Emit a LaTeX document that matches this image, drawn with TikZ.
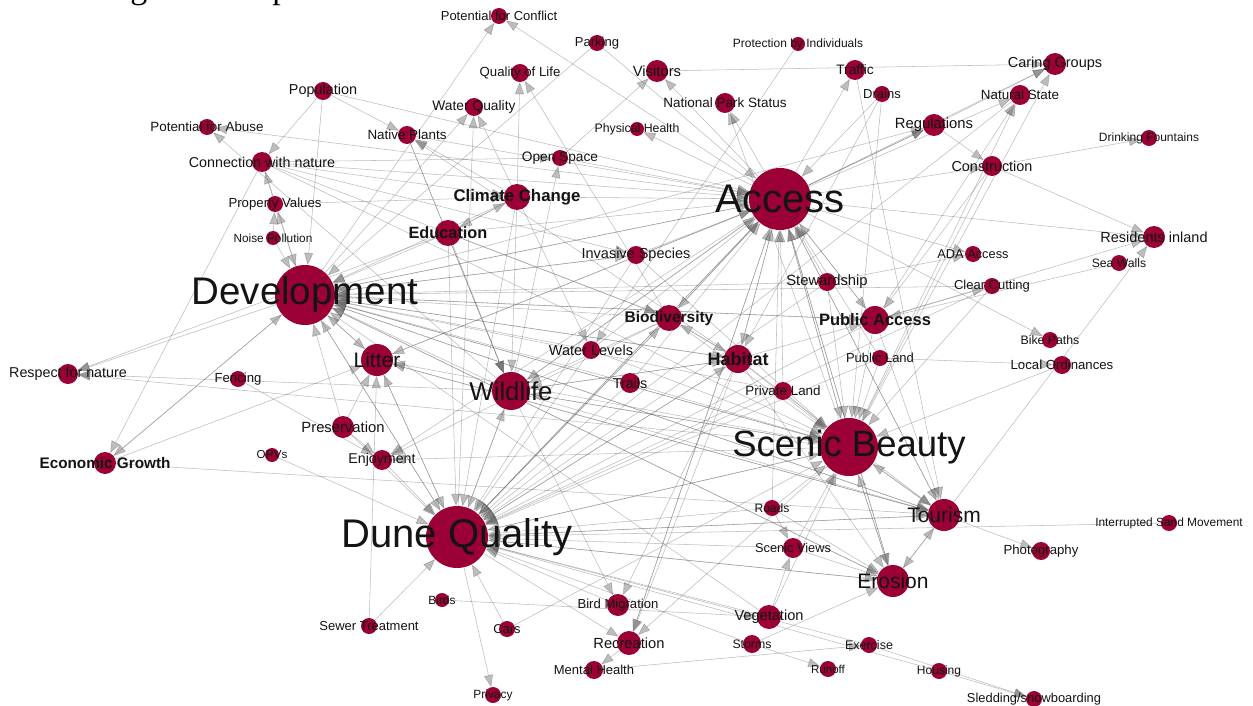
\documentclass[tikz,border=0pt]{standalone}
\usepackage{fontspec}
\setmainfont{Liberation Sans}
\newfontfamily\titlefont{Liberation Serif}
\usetikzlibrary{arrows.meta}
\definecolor{dunered}{RGB}{155,0,55}
\definecolor{edgegray}{RGB}{100,100,100}
\tikzset{
  vertex/.style={circle, inner sep=0pt, minimum size=#1},
  edge/.style={draw=edgegray, line width=0.55pt, opacity=0.42, -{Triangle[length=12pt,width=9pt]}},
  edgedark/.style={edge, opacity=0.75},
  lab/.style={inner sep=0pt, text=black!92}
}
% name/x/y/radius/font size/series/label
\newcommand\nodelist{%
conflict/499/16/8/13/\mdseries/Potential for Conflict,
parking/597/43/8/13/\mdseries/Parking,
protect/798/44/7/12/\mdseries/Protection by Individuals,
qol/520/73/9/13.2/\mdseries/Quality of Life,
visitors/657/71/11/14.8/\mdseries/Visitors,
traffic/855/70/10/13.7/\mdseries/Traffic,
caring/1055/64/11/14.5/\mdseries/Caring Groups,
drains/882/94/8/13/\mdseries/Drains,
natstate/1020/95/10/13.4/\mdseries/Natural State,
natpark/725/103/10/13.5/\mdseries/National Park Status,
population/323/91/9/14.4/\mdseries/Population,
waterq/474/107/9/13.8/\mdseries/Water Quality,
nativep/407/135/9/13.4/\mdseries/Native Plants,
abuse/207/127/8/13.4/\mdseries/Potential for Abuse,
physh/637/129/7/12.3/\mdseries/Physical Health,
regs/934/125/11/14.8/\mdseries/Regulations,
fountains/1149/138/8/12/\mdseries/Drinking Fountains,
openspace/560/158/8/13.7/\mdseries/Open Space,
connect/262/162/10/14.3/\mdseries/Connection with nature,
constr/992/166/10/14.4/\mdseries/Construction,
climate/517/197/13/16.8/\bfseries/Climate Change,
access/780/199/31/40/\mdseries/Access,
propval/275/204/8/13.2/\mdseries/Property Values,
edu/448/233/13/16.3/\bfseries/Education,
noise/273/238/7/11.8/\mdseries/Noise Pollution,
resid/1154/237/11/14.5/\mdseries/Residents inland,
invasive/636/255/9/14.5/\mdseries/Invasive Species,
ada/973/254/8/12.8/\mdseries/ADA Access,
seawalls/1119/263/8/12.2/\mdseries/Sea Walls,
dev/305/295/30/38.5/\mdseries/Development,
steward/827/282/9/14.8/\mdseries/Stewardship,
clearcut/992/286/8/13/\mdseries/Clear Cutting,
biodiv/669/318/13/15.5/\bfseries/Biodiversity,
pubacc/875/320/14/16.5/\bfseries/Public Access,
bike/1050/340/8/12.3/\mdseries/Bike Paths,
waterlev/591/350/9/14.5/\mdseries/Water Levels,
litter/377/360/16/21/\mdseries/Litter,
habitat/738/359/14/18/\bfseries/Habitat,
publand/880/358/8/13/\mdseries/Public Land,
localord/1062/365/9/13.2/\mdseries/Local Ordinances,
respect/68/374/10/14.3/\mdseries/Respect for nature,
fencing/238/379/8/13.2/\mdseries/Fencing,
wildlife/511/391/19/25.8/\mdseries/Wildlife,
trails/630/383/10/14.3/\mdseries/Trails,
privland/783/391/9/13.4/\mdseries/Private Land,
preserv/343/427/11/14.8/\mdseries/Preservation,
scenic/849/447/29/36.5/\mdseries/Scenic Beauty,
econ/105/463/11/15.3/\bfseries/Economic Growth,
orvs/272/455/7/11.6/\mdseries/ORVs,
enjoy/382/460/10/14.2/\mdseries/Enjoyment,
dune/457/537/31/40/\mdseries/Dune Quality,
roads/772/508/8/12.1/\mdseries/Roads,
tourism/944/515/16/21/\mdseries/Tourism,
sand/1169/523/8/11.9/\mdseries/Interrupted Sand Movement,
scviews/793/548/10/12.8/\mdseries/Scenic Views,
photo/1041/551/9/13.2/\mdseries/Photography,
erosion/893/581/16/21/\mdseries/Erosion,
birds/442/600/7/11.9/\mdseries/Birds,
birdmig/618/605/11/13.1/\mdseries/Bird Migration,
veg/769/617/12/14.6/\mdseries/Vegetation,
sewer/369/626/8/13/\mdseries/Sewer Treatment,
cars/507/629/8/12.8/\mdseries/Cars,
recr/629/643/12/14.7/\mdseries/Recreation,
storms/752/644/9/12.3/\mdseries/Storms,
exercise/869/645/8/12.5/\mdseries/Exercise,
mental/594/670/9/13/\mdseries/Mental Health,
runoff/828/669/8/11.5/\mdseries/Runoff,
housing/939/671/8/12/\mdseries/Housing,
privacy/493/695/8/11.9/\mdseries/Privacy,
sledding/1034/699/8/12.9/\mdseries/{Sledding/snowboarding}}

\begin{document}
\begin{tikzpicture}[x=1pt,y=-1pt]
\useasboundingbox (0,0) rectangle (1253,706);
\fill[white] (0,0) rectangle (1253,706);

\node[anchor=base west, inner sep=0pt, font=\titlefont\fontsize{34}{34}\selectfont] (title) at (-4,-1) {Chikaming Township};

% Nodes (shapes only, for the connectors)
\foreach \nm/\x/\y/\rr/\fs/\fw/\txt in \nodelist
  \node[vertex={2*\rr pt}] (\nm) at (\x,\y) {};

% Connectors: outer part of the graph
\foreach \a/\b in {dev/conflict, access/conflict, climate/qol, biodiv/qol, parking/dev, parking/access,
  visitors/caring, access/visitors, openspace/visitors, protect/waterlev,
  access/natpark, scenic/natpark, access/physh, access/traffic,
  dev/regs, traffic/tourism, drains/scenic, drains/habitat,
  regs/constr, regs/caring, access/caring, scenic/caring,
  scenic/natstate, pubacc/natstate, access/natstate, natstate/dune,
  constr/fountains, constr/resid, access/resid, access/constr, constr/scenic, constr/pubacc,
  tourism/resid, localord/scenic, publand/localord, access/bike,
  seawalls/pubacc, pubacc/resid, clearcut/scenic, pubacc/clearcut, access/ada, steward/ada,
  population/access, population/nativep, population/connect, population/dev,
  access/abuse, wildlife/abuse,
  connect/openspace, connect/climate, connect/invasive, connect/biodiv, connect/scenic, connect/econ,
  propval/climate, propval/connect, noise/propval, noise/dev, dev/propval,
  dev/respect, edu/respect, scenic/respect, wildlife/respect,
  dev/econ, econ/dev, econ/litter, econ/tourism,
  climate/nativep, habitat/nativep, dev/waterq, dune/waterq, climate/waterq,
  wildlife/openspace, fencing/enjoy, preserv/enjoy, preserv/litter, preserv/dev, orvs/dune,
  sewer/litter, sewer/dune, birds/veg, cars/scenic, cars/dune, dune/privacy,
  recr/mental, mental/exercise, exercise/sledding, housing/sledding,
  storms/runoff, storms/erosion, storms/dune,
  veg/scenic, veg/scviews, veg/dune, roads/scviews, tourism/photo,
  tourism/erosion, erosion/tourism, sand/dune,
  wildlife/birdmig, habitat/birdmig, dune/recr, scenic/recr, access/recr, habitat/recr,
  housing/dune, exercise/dune}
  \draw[edge] (\a) -- (\b);

% Connectors: the hubs
\foreach \a/\b in {access/dev, climate/dev, edu/dev, biodiv/dev, habitat/dev, invasive/dev, wildlife/dev,
  scenic/dev, tourism/dev, pubacc/dev, steward/dev, waterlev/dev, trails/dev, litter/dev,
  privland/dev, dune/dev, erosion/dev, veg/dev, connect/dev, clearcut/dev,
  dev/access, edu/access, climate/access, invasive/access, biodiv/access, habitat/access,
  wildlife/access, dune/access, scenic/access, tourism/access, pubacc/access, steward/access,
  publand/access, privland/access, litter/access, connect/access, waterlev/access, trails/access,
  erosion/access, roads/access, nativep/access, openspace/access, drains/access, recr/access,
  access/dune, scenic/dune, wildlife/dune, habitat/dune, biodiv/dune, invasive/dune, erosion/dune,
  tourism/dune, roads/dune, scviews/dune, trails/dune, waterlev/dune, pubacc/dune, steward/dune,
  climate/dune, edu/dune, litter/dune, preserv/dune, enjoy/dune, dev/dune, birdmig/dune,
  privland/dune, publand/dune, clearcut/dune,
  access/scenic, dev/scenic, dune/scenic, pubacc/scenic, publand/scenic, steward/scenic,
  habitat/scenic, biodiv/scenic, wildlife/scenic, privland/scenic, trails/scenic, roads/scenic,
  waterlev/scenic, invasive/scenic, tourism/scenic, erosion/scenic, scviews/scenic,
  scenic/tourism, access/tourism, dune/tourism, dev/tourism, pubacc/tourism, habitat/tourism,
  wildlife/tourism, litter/tourism,
  scenic/erosion, dune/erosion, roads/erosion, scviews/erosion, access/erosion, dev/erosion, habitat/erosion,
  dune/wildlife, edu/wildlife, habitat/wildlife, biodiv/wildlife, scenic/wildlife, access/wildlife, climate/wildlife,
  dev/litter, access/litter, scenic/litter, tourism/litter, dune/litter,
  access/enjoy, biodiv/enjoy, scenic/enjoy,
  dune/habitat, biodiv/habitat, dev/habitat, access/habitat, wildlife/habitat,
  edu/biodiv, dune/biodiv, habitat/biodiv, access/biodiv,
  dev/invasive, climate/waterlev, edu/climate, climate/edu,
  habitat/pubacc, dev/pubacc, access/pubacc}
  \draw[edge] (\a) -- (\b);

\draw[edgedark] (access) -- (regs);
\draw[edgedark] (nativep) -- (wildlife);

% Discs
\foreach \nm/\x/\y/\rr/\fs/\fw/\txt in \nodelist
  \fill[dunered] (\nm) circle[radius=\rr pt];

% Labels
\foreach \nm/\x/\y/\rr/\fs/\fw/\txt in \nodelist
  \node[lab, font=\fontsize{\fs}{\fs}\selectfont\fw] (\nm-t) at (\nm) {\txt};
\end{tikzpicture}
\end{document}
